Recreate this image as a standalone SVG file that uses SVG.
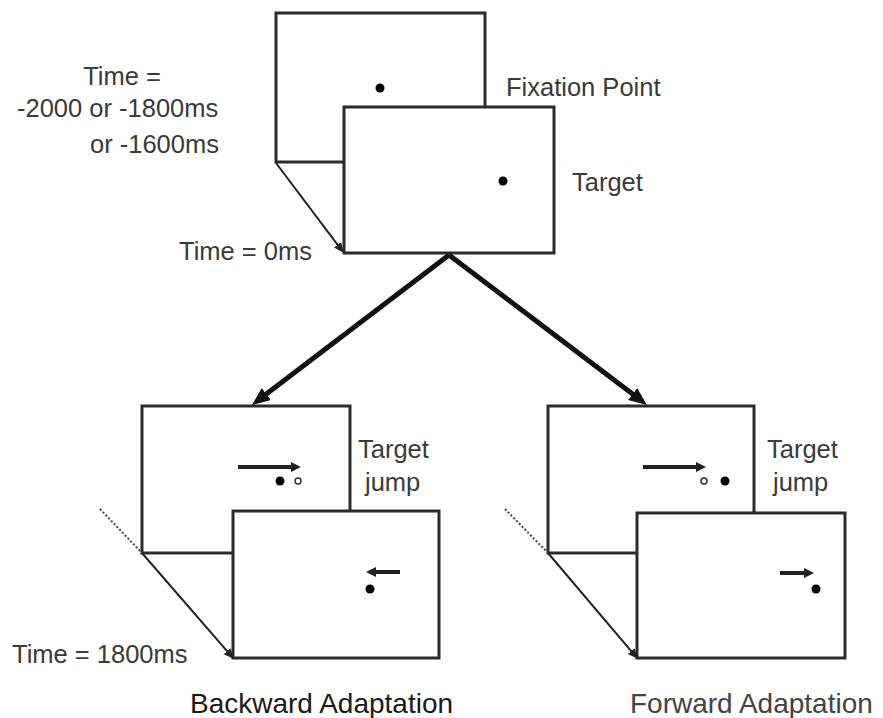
<svg xmlns="http://www.w3.org/2000/svg" width="883" height="718" viewBox="0 0 883 718">
<style>
.frame{fill:#fff;stroke:#2b2b2b;stroke-width:3}
.lbl{font-family:"Liberation Sans",Arial,sans-serif;font-size:25.5px;fill:#3a3a3a}
.title{font-family:"Liberation Sans",Arial,sans-serif;font-size:28px}
.dot{fill:#000}
.open{fill:#fff;stroke:#333;stroke-width:1.5}
.big{stroke:#111;stroke-width:5;fill:none}
.thin{stroke:#222;stroke-width:2;fill:none}
.dotted{stroke:#444;stroke-width:2;stroke-dasharray:2 2;fill:none}
.small{stroke:#222;stroke-width:4;fill:none}
</style>
<defs>
<marker id="bigHead" markerUnits="userSpaceOnUse" markerWidth="20" markerHeight="16" refX="2" refY="7.5" orient="auto"><path d="M0,0 L18,7.5 L0,15 z" fill="#111"/></marker>
<marker id="thinHead" markerUnits="userSpaceOnUse" markerWidth="12" markerHeight="10" refX="2" refY="4.5" orient="auto"><path d="M0,0 L10,4.5 L0,9 z" fill="#222"/></marker>
<marker id="smallHead" markerUnits="userSpaceOnUse" markerWidth="12" markerHeight="11" refX="1" refY="5" orient="auto"><path d="M0,0 L10,5 L0,10 z" fill="#222"/></marker>
</defs>

<g id="fixation-frame">
<rect class="frame" x="276" y="13" width="209" height="149"/>
<circle class="dot" cx="380" cy="88" r="4.5"/>
</g>
<g id="target-frame">
<rect class="frame" x="344" y="107" width="210" height="146"/>
<circle class="dot" cx="503" cy="181" r="4.5"/>
</g>

<g id="backward-jump-frame">
<rect class="frame" x="142" y="406" width="208" height="147"/>
<line class="small" x1="238" y1="467" x2="292" y2="467" marker-end="url(#smallHead)"/>
<circle class="dot" cx="280" cy="481" r="4.5"/>
<circle class="open" cx="298" cy="481" r="3"/>
</g>
<g id="backward-final-frame">
<rect class="frame" x="233" y="511" width="206" height="147"/>
<line class="small" x1="400" y1="572" x2="375" y2="572" marker-end="url(#smallHead)"/>
<circle class="dot" cx="370" cy="589" r="4.5"/>
</g>

<g id="forward-jump-frame">
<rect class="frame" x="548" y="406" width="206" height="147"/>
<line class="small" x1="643" y1="467" x2="697" y2="467" marker-end="url(#smallHead)"/>
<circle class="open" cx="704" cy="481" r="3"/>
<circle class="dot" cx="725" cy="481" r="4.5"/>
</g>
<g id="forward-final-frame">
<rect class="frame" x="637" y="513" width="208" height="145"/>
<line class="small" x1="780" y1="573" x2="805" y2="573" marker-end="url(#smallHead)"/>
<circle class="dot" cx="816" cy="589" r="4.5"/>
</g>

<g id="connectors">
<line class="big" x1="449" y1="255" x2="264.7" y2="395.3" marker-end="url(#bigHead)"/>
<line class="big" x1="449" y1="255" x2="634.2" y2="395.3" marker-end="url(#bigHead)"/>
<line class="thin" x1="276" y1="163" x2="338.8" y2="246.4" marker-end="url(#thinHead)"/>
<line class="dotted" x1="100" y1="509" x2="142" y2="553"/>
<line class="thin" x1="142" y1="553" x2="228.4" y2="652.7" marker-end="url(#thinHead)"/>
<line class="dotted" x1="505" y1="509" x2="548" y2="553"/>
<line class="thin" x1="548" y1="553" x2="632.5" y2="652.7" marker-end="url(#thinHead)"/>
</g>

<g id="labels">
<text class="lbl" x="122" y="85" text-anchor="middle">Time =</text>
<text class="lbl" x="17" y="117">-2000 or -1800ms</text>
<text class="lbl" x="90" y="153">or -1600ms</text>
<text class="lbl" x="179" y="260">Time = 0ms</text>
<text class="lbl" x="506" y="96">Fixation Point</text>
<text class="lbl" x="572" y="191">Target</text>
<text class="lbl" x="358" y="458">Target</text>
<text class="lbl" x="365" y="491">jump</text>
<text class="lbl" x="767" y="458">Target</text>
<text class="lbl" x="773" y="491">jump</text>
<text class="lbl" x="12" y="663">Time = 1800ms</text>
<text class="title" x="190" y="713" fill="#1a1a1a">Backward Adaptation</text>
<text class="title" x="630" y="713" fill="#444" font-size="29px">Forward Adaptation</text>
</g>
</svg>
